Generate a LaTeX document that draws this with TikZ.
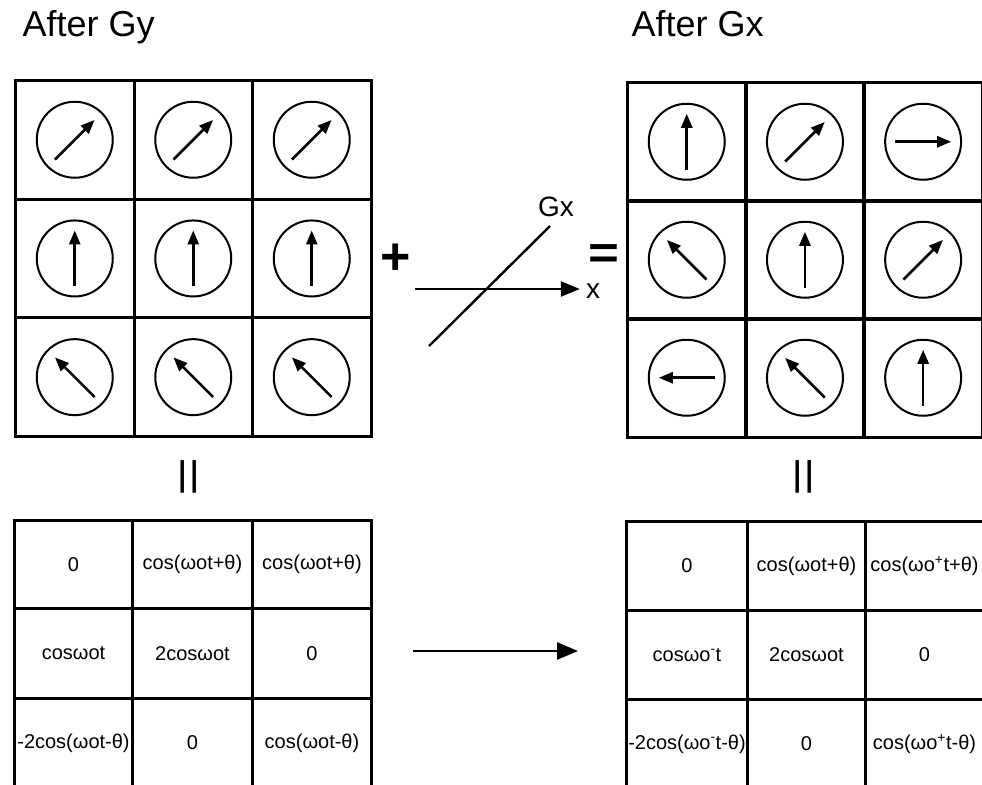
\documentclass[tikz,border=0pt]{standalone}
\usepackage{fontspec}
\setmainfont{Liberation Sans}
\usetikzlibrary{arrows.meta,calc}
\newcommand{\fsz}[1]{\fontsize{#1}{#1}\selectfont}
\begin{document}
\begin{tikzpicture}[x=1pt,y=-1pt,
  cellbox/.style={draw, line width=3pt, minimum width=118.5pt, minimum height=118.5pt,
                  inner sep=0pt, anchor=north west},
  dial/.style={draw, circle, line width=2pt, minimum size=76pt, inner sep=0pt},
  spin/.style={line width=2.6pt, -{Triangle[length=14pt,width=11pt]}},
  tcell/.style={draw, line width=3pt, inner sep=0pt, anchor=north west, font=\fsz{20}},
  title/.style={anchor=base west, font=\fsz{36}},
  flow/.style={line width=2.4pt, -{Triangle[length=21pt,width=17pt]}},
  axis/.style={line width=2.4pt, -{Triangle[length=19pt,width=15pt]}},
  vequal/.style={rotate=90, font=\fsz{48}, inner sep=0pt}]
\useasboundingbox (0,0) rectangle (982,784);
\clip (0,0) rectangle (982,784);

% titles
\node[title] (tGy) at (19,37) {After Gy};
\node[title] (tGx) at (628,37) {After Gx};

% magnetisation after the y gradient
\foreach \r/\c/\a in {1/1/45,1/2/45,1/3/45,2/1/90,2/2/90,2/3/90,3/1/135,3/2/135,3/3/135}{
  \node[cellbox] (L\r\c) at ({14+(\c-1)*118.5},{79+(\r-1)*118.7}) {};
  \node[dial] (LD\r\c) at (L\r\c.center) {};
  \draw[spin] ($(LD\r\c)+({-28*cos(\a)},{28*sin(\a)})$) -- ($(LD\r\c)+({28*cos(\a)},{-28*sin(\a)})$);
}

% magnetisation after the x gradient
\foreach \r/\c/\a in {1/1/90,1/2/45,1/3/0,2/1/135,2/2/90,2/3/45,3/1/180,3/2/135,3/3/90}{
  \node[cellbox] (R\r\c) at ({626+(\c-1)*118.2},{81+(\r-1)*118}) {};
  \node[dial] (RD\r\c) at (R\r\c.center) {};
  \draw[spin] ($(RD\r\c)+({-28*cos(\a)},{28*sin(\a)})$) -- ($(RD\r\c)+({28*cos(\a)},{-28*sin(\a)})$);
}

% plus, gradient axes, equals
\node[font=\bfseries\fsz{52}, inner sep=0pt] (plus) at (396,259) {+};
\node[font=\bfseries\fsz{46}, inner sep=0pt] (eqM) at (604,257) {\scalebox{1.15}[1]{=}};
\coordinate (gA) at (429,346);
\coordinate (gB) at (550,226);
\draw[line width=2.4pt] (gA) -- (gB);
\node[font=\fsz{28}, inner sep=0pt] (gxlab) at (556,207) {Gx};
\coordinate (xA) at (415,289);
\node[font=\fsz{28}, inner sep=0pt] (xlab) at (593,291) {x};
\draw[axis] (xA) -- ([xshift=-6pt]xlab.west |- xA);

% equals signs turned upright below the grids
\node[vequal] (eqL) at (193,477) {\scalebox{1.4}[1]{=}};
\node[vequal] (eqR) at (808,477) {\scalebox{1.4}[1]{=}};

% signal table, left
\node[tcell, minimum width=118pt, minimum height=88pt] (a11) at (13,519) {0};
\node[tcell, minimum width=120pt, minimum height=88pt] (a12) at (131,519) {cos(ωot+θ)};
\node[tcell, minimum width=119pt, minimum height=88pt] (a13) at (251,519) {cos(ωot+θ)};
\node[tcell, minimum width=118pt, minimum height=90pt] (a21) at (13,607) {cosωot};
\node[tcell, minimum width=120pt, minimum height=90pt] (a22) at (131,607) {2cosωot};
\node[tcell, minimum width=119pt, minimum height=90pt] (a23) at (251,607) {0};
\node[tcell, minimum width=118pt, minimum height=89pt] (a31) at (13,697) {-2cos(ωot-θ)};
\node[tcell, minimum width=120pt, minimum height=89pt] (a32) at (131,697) {0};
\node[tcell, minimum width=119pt, minimum height=89pt] (a33) at (251,697) {cos(ωot-θ)};

% signal table, right
\node[tcell, minimum width=121pt, minimum height=89pt] (b11) at (625,520) {0};
\node[tcell, minimum width=118pt, minimum height=89pt] (b12) at (746,520) {cos(ωot+θ)};
\node[tcell, minimum width=118pt, minimum height=89pt] (b13) at (864,520) {cos(ωo\textsuperscript{+}t+θ)};
\node[tcell, minimum width=121pt, minimum height=89pt] (b21) at (625,609) {cosωo\textsuperscript{-}t};
\node[tcell, minimum width=118pt, minimum height=89pt] (b22) at (746,609) {2cosωot};
\node[tcell, minimum width=118pt, minimum height=89pt] (b23) at (864,609) {0};
\node[tcell, minimum width=121pt, minimum height=89pt] (b31) at (625,698) {-2cos(ωo\textsuperscript{-}t-θ)};
\node[tcell, minimum width=118pt, minimum height=89pt] (b32) at (746,698) {0};
\node[tcell, minimum width=118pt, minimum height=89pt] (b33) at (864,698) {cos(ωo\textsuperscript{+}t-θ)};

% transition between the tables
\coordinate (fA) at (413,651);
\coordinate (fB) at (578,651);
\draw[flow] (fA) -- (fB);
\end{tikzpicture}
\end{document}
